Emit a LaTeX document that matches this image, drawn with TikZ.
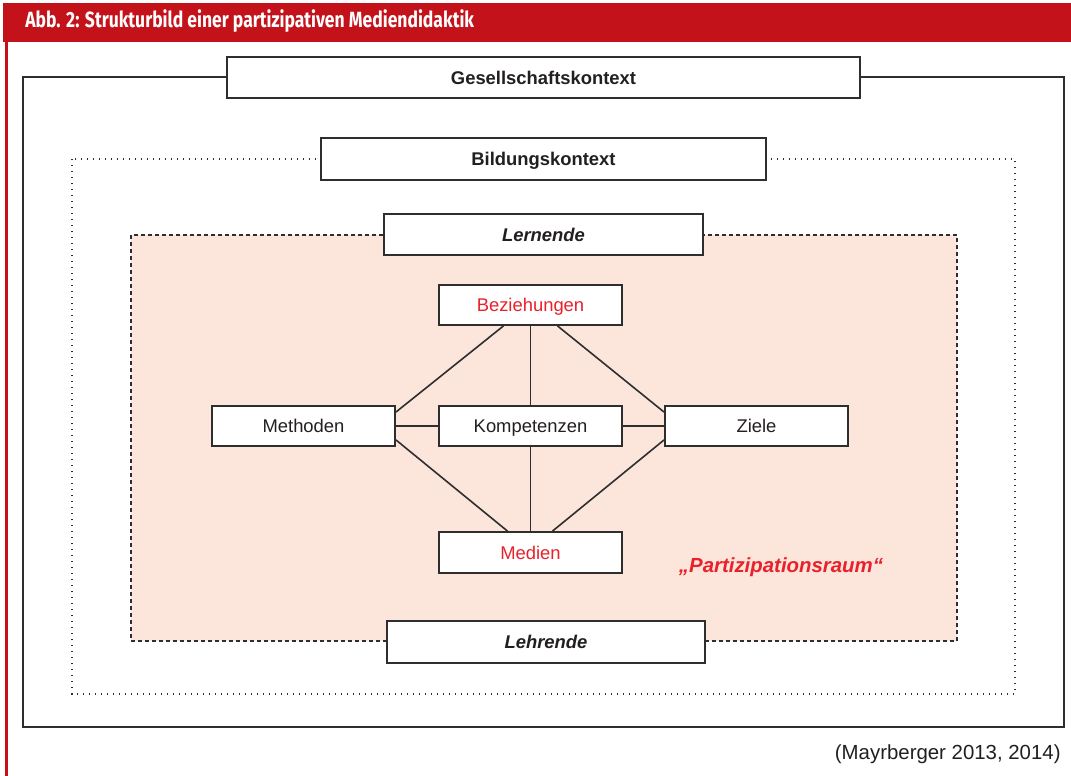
\documentclass[tikz,border=0pt]{standalone}
\usepackage{fontspec}
\setmainfont{Liberation Sans}
\newfontfamily\titlefont{Fira Sans}
\usetikzlibrary{calc}
\definecolor{hdrred}{HTML}{C4121A}
\definecolor{txtred}{HTML}{E8212A}
\definecolor{pinkfill}{HTML}{FCE5DB}
\definecolor{linegray}{HTML}{2E2E2E}
\definecolor{txtgray}{HTML}{231F20}
\tikzset{
  box/.style={draw=linegray, line width=0.9pt, fill=white, inner sep=0pt,
    font=\fontsize{9.2}{11}\selectfont, text=txtgray, text height=8pt, text depth=1.3pt},
  conn/.style={draw=linegray, line width=0.8pt},
}
\begin{document}
\begin{tikzpicture}[x=0.5pt,y=-0.5pt]
\useasboundingbox (0,0) rectangle (1071,776);
% header
\fill[hdrred] (3,3) rectangle (1071,42);
\fill[hdrred] (5,42) rectangle (8,776);
\node[anchor=west, text=white, inner sep=0pt] (title) at (25,21)
  {\scalebox{0.796}[1]{\titlefont\bfseries\fontsize{11}{13}\selectfont Abb. 2: Strukturbild einer partizipativen Mediendidaktik}};
% frames
\draw[linegray, line width=0.9pt] (23,77) rectangle (1064,727);
\draw[linegray, line width=0.8pt, dash pattern=on 0.6pt off 2.4pt] (72,159) rectangle (1015,694);
\draw[linegray, line width=0.9pt, fill=pinkfill, dash pattern=on 2pt off 1.5pt] (131,235) rectangle (957,641);
% context boxes
\node[box, minimum width=316.5pt, minimum height=20.5pt, font=\fontsize{9.2}{11}\selectfont\bfseries] (ges) at (543.5,77.5) {Gesellschaftskontext};
\node[box, minimum width=222.5pt, minimum height=21pt, font=\fontsize{9.2}{11}\selectfont\bfseries] (bil) at (543.5,159) {Bildungskontext};
\node[box, minimum width=159.5pt, minimum height=20.5pt, font=\fontsize{9.2}{11}\selectfont\bfseries\itshape] (ler) at (543.5,234.5) {Lernende};
\node[box, minimum width=159pt, minimum height=21pt, font=\fontsize{9.2}{11}\selectfont\bfseries\itshape] (leh) at (546,642) {Lehrende};
% inner nodes
\node[box, minimum width=91.5pt, minimum height=20pt, text=txtred] (bez) at (530.5,305) {Beziehungen};
\node[box, minimum width=91.5pt, minimum height=20pt] (met) at (303.5,426) {Methoden};
\node[box, minimum width=91.5pt, minimum height=20pt] (kom) at (530.5,426) {Kompetenzen};
\node[box, minimum width=91.5pt, minimum height=20pt] (zie) at (756.5,426) {Ziele};
\node[box, minimum width=91.5pt, minimum height=20.5pt, text=txtred] (med) at (530.5,552.5) {Medien};
% connectors
\draw[conn] ($(bez.south)+(-27,0)$) -- ($(met.north east)+(0,7)$);
\draw[conn] (bez.south) -- (kom.north);
\draw[conn] ($(bez.south)+(27,0)$) -- ($(zie.north west)+(0,7)$);
\draw[conn] (met.east) -- (kom.west);
\draw[conn] (kom.east) -- (zie.west);
\draw[conn] ($(met.south east)+(0,-7)$) -- ($(med.north)+(-23,0)$);
\draw[conn] (kom.south) -- (med.north);
\draw[conn] ($(zie.south west)+(0,-7)$) -- ($(med.north)+(22,0)$);
% labels
\node[text=txtred, font=\fontsize{10.2}{12}\selectfont\bfseries\itshape, inner sep=0pt] (raum) at (781,567) {„Partizipationsraum“};
\node[anchor=east, text=txtgray, font=\fontsize{10.2}{12}\selectfont, inner sep=0pt] (src) at (1061,754) {(Mayrberger 2013, 2014)};
\end{tikzpicture}
\end{document}
